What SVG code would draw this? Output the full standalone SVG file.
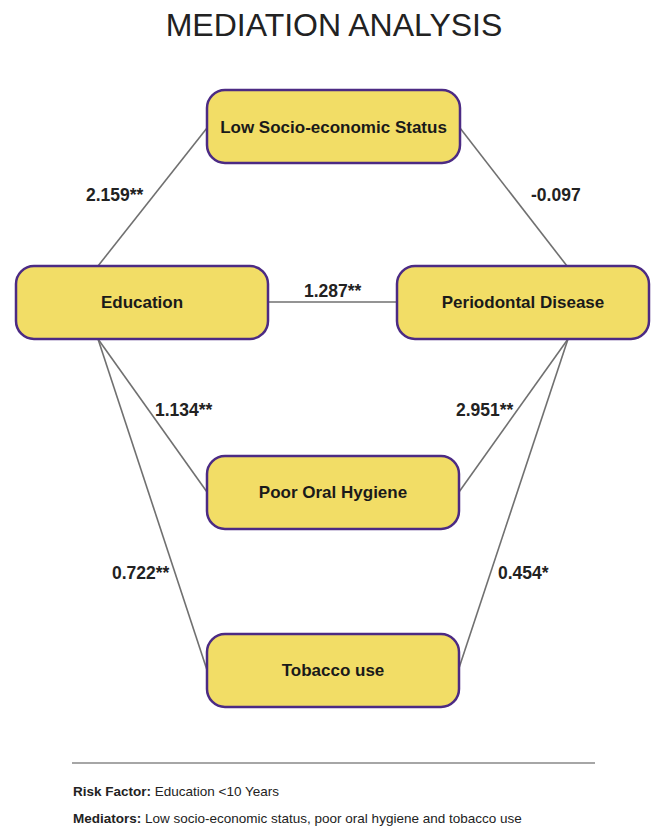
<svg xmlns="http://www.w3.org/2000/svg" width="653" height="830" viewBox="0 0 653 830">
<style>
.node rect{fill:#f2dd66;stroke:#4c2b84;stroke-width:2.5}
.node text{font-family:"Liberation Sans",Arial,sans-serif;font-weight:bold;font-size:17px;fill:#1a1a1a;text-anchor:middle}
.edges line{stroke:#707070;stroke-width:1.6}
.lbl{font-family:"Liberation Sans",Arial,sans-serif;font-weight:bold;font-size:17.5px;fill:#222}
.title{font-family:"Liberation Sans",Arial,sans-serif;font-size:32px;fill:#222;text-anchor:middle}
.foot{font-family:"Liberation Sans",Arial,sans-serif;font-size:13.5px;fill:#222}
</style>
<rect width="653" height="830" fill="#ffffff"/>
<text class="title" x="334" y="36">MEDIATION ANALYSIS</text>
<g id="connectors" class="edges">
<line x1="98" y1="266" x2="207" y2="128"/>
<line x1="460" y1="128" x2="567" y2="266"/>
<line x1="268" y1="302" x2="397" y2="302"/>
<line x1="98" y1="339" x2="207" y2="492"/>
<line x1="98" y1="339" x2="207" y2="670"/>
<line x1="568" y1="339" x2="459" y2="492"/>
<line x1="568" y1="339" x2="459" y2="668"/>
</g>
<g id="edge-labels">
<text class="lbl" x="86" y="201">2.159**</text>
<text class="lbl" x="531" y="201">-0.097</text>
<text class="lbl" x="304" y="297">1.287**</text>
<text class="lbl" x="155" y="416">1.134**</text>
<text class="lbl" x="456" y="416">2.951**</text>
<text class="lbl" x="112" y="579">0.722**</text>
<text class="lbl" x="498" y="579">0.454*</text>
</g>
<g id="node-ses" class="node">
<rect x="207" y="90" width="253" height="73" rx="18"/>
<text x="333.5" y="133">Low Socio-economic Status</text>
</g>
<g id="node-education" class="node">
<rect x="16" y="266" width="252" height="73" rx="18"/>
<text x="142" y="308">Education</text>
</g>
<g id="node-periodontal" class="node">
<rect x="397" y="266" width="252" height="73" rx="18"/>
<text x="523" y="308">Periodontal Disease</text>
</g>
<g id="node-hygiene" class="node">
<rect x="207" y="456" width="252" height="73" rx="18"/>
<text x="333" y="498">Poor Oral Hygiene</text>
</g>
<g id="node-tobacco" class="node">
<rect x="207" y="634" width="252" height="73" rx="18"/>
<text x="333" y="676">Tobacco use</text>
</g>
<g id="footer">
<line x1="72" y1="763" x2="595" y2="763" stroke="#888888" stroke-width="1.5"/>
<text class="foot" x="73" y="796"><tspan font-weight="bold">Risk Factor:</tspan> Education &lt;10 Years</text>
<text class="foot" x="73" y="823"><tspan font-weight="bold">Mediators:</tspan> Low socio-economic status, poor oral hygiene and tobacco use</text>
</g>
</svg>
